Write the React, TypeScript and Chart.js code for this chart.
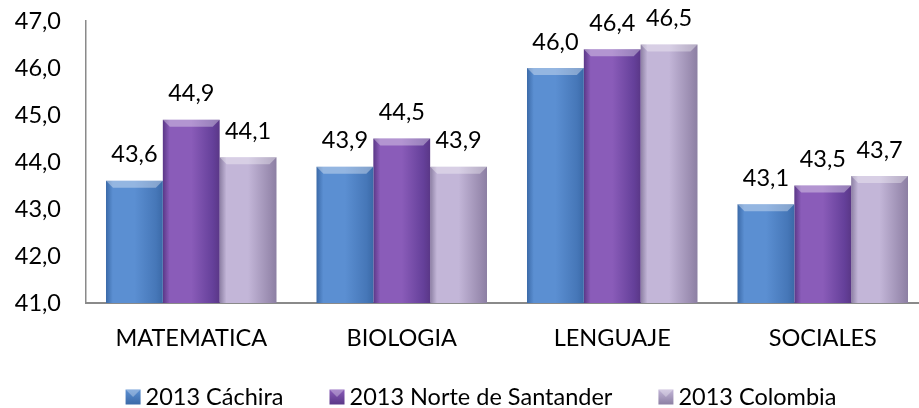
import React, { useEffect, useRef } from "react";
import { Chart, registerables } from "chart.js";

Chart.register(...registerables);

const categories = ["MATEMATICA", "BIOLOGIA", "LENGUAJE", "SOCIALES"];
const seriesNames = ["2013 Cáchira", "2013 Norte de Santander", "2013 Colombia"];
const cachira = [43.6, 43.9, 46.0, 43.1];
const norte = [44.9, 44.5, 46.4, 43.5];
const colombia = [44.1, 43.9, 46.5, 43.7];
const yTicks = [41, 42, 43, 44, 45, 46, 47];

const FONT = "Lato, 'Open Sans', sans-serif";
const FONT_SIZE = 23.5;
const CAT_PCT = 0.81;

// [edge dark, center light, right edge, legend solid]
const palettes = [
  ["#3b6aa8", "#5b8fd2", "#4677b8", "#4f81bd"],
  ["#5a3787", "#8a5cb9", "#65409a", "#7a4fac"],
  ["#8c7fa3", "#c3b6d8", "#9a8cb0", "#b0a2c8"],
];

const fmt = (v: number) => v.toFixed(1).replace(".", ",");

function barGradient(ctx: any) {
  const pal = palettes[ctx.datasetIndex] || palettes[0];
  const chart = ctx.chart;
  const xs = chart.scales && chart.scales.x;
  if (ctx.dataIndex === undefined || !xs || !chart.chartArea) return pal[3];
  const n = categories.length;
  const catW = xs.width / n;
  const barW = (catW * CAT_PCT) / 3;
  const cx = xs.getPixelForValue(ctx.dataIndex) + (ctx.datasetIndex - 1) * barW;
  const g = chart.ctx.createLinearGradient(cx - barW / 2, 0, cx + barW / 2, 0);
  g.addColorStop(0, pal[0]);
  g.addColorStop(0.12, pal[1]);
  g.addColorStop(0.5, pal[1]);
  g.addColorStop(0.88, pal[2]);
  g.addColorStop(1, pal[0]);
  return g;
}

const bevelAndLabels = {
  id: "bevelAndLabels",
  afterDatasetsDraw(chart: any) {
    const c = chart.ctx;
    c.save();
    chart.data.datasets.forEach((ds: any, di: number) => {
      const meta = chart.getDatasetMeta(di);
      meta.data.forEach((el: any, i: number) => {
        const { x, y, base, width } = el.getProps(["x", "y", "base", "width"], true);
        const l = x - width / 2;
        const r = x + width / 2;
        const b = 7;
        c.beginPath();
        c.moveTo(l, y);
        c.lineTo(r, y);
        c.lineTo(r - b, y + b);
        c.lineTo(l + b, y + b);
        c.closePath();
        c.fillStyle = "rgba(255,255,255,0.35)";
        c.fill();
        c.beginPath();
        c.moveTo(l, base);
        c.lineTo(r, base);
        c.lineTo(r - 3, base - 3);
        c.lineTo(l + 3, base - 3);
        c.closePath();
        c.fillStyle = "rgba(0,0,0,0.15)";
        c.fill();
        c.fillStyle = "#000";
        c.font = `${FONT_SIZE}px ${FONT}`;
        c.textAlign = "center";
        c.textBaseline = "middle";
        c.fillText(fmt(ds.data[i]), x, y - 26);
      });
    });
    c.restore();
  },
};

const LEGEND_CENTER_X = 481;
const LEGEND_BOTTOM_OFFSET = 11;
const LEGEND_BOX = 15;
const LEGEND_TEXT_GAP = 5;
const LEGEND_ITEM_GAP = 46;

const bottomLegend = {
  id: "bottomLegend",
  afterDraw(chart: any) {
    const c = chart.ctx;
    c.save();
    c.font = `${FONT_SIZE}px ${FONT}`;
    const widths = seriesNames.map((s) => c.measureText(s).width);
    const items = widths.map((w) => LEGEND_BOX + LEGEND_TEXT_GAP + w);
    const total = items.reduce((a, b) => a + b, 0) + LEGEND_ITEM_GAP * (items.length - 1);
    let x = LEGEND_CENTER_X - total / 2;
    const cy = chart.height - LEGEND_BOTTOM_OFFSET;
    seriesNames.forEach((name, i) => {
      const pal = palettes[i];
      const top = cy - LEGEND_BOX / 2;
      const g = c.createLinearGradient(0, top, 0, top + LEGEND_BOX);
      g.addColorStop(0, pal[1]);
      g.addColorStop(1, pal[0]);
      c.fillStyle = g;
      c.fillRect(x, top, LEGEND_BOX, LEGEND_BOX);
      c.fillStyle = "rgba(255,255,255,0.3)";
      c.beginPath();
      c.moveTo(x, top);
      c.lineTo(x + LEGEND_BOX, top);
      c.lineTo(x + LEGEND_BOX / 2, top + LEGEND_BOX / 2);
      c.closePath();
      c.fill();
      c.fillStyle = "#000";
      c.textAlign = "left";
      c.textBaseline = "middle";
      c.fillText(name, x + LEGEND_BOX + LEGEND_TEXT_GAP, cy);
      x += items[i] + LEGEND_ITEM_GAP;
    });
    c.restore();
  },
};

export default function App() {
  const ref = useRef<HTMLCanvasElement>(null);
  useEffect(() => {
    if (!ref.current) return;
    const chart = new Chart(ref.current, {
      type: "bar",
      data: {
        labels: categories,
        datasets: [cachira, norte, colombia].map((d, i) => ({
          label: seriesNames[i],
          data: d,
          backgroundColor: barGradient,
          borderWidth: 0,
          categoryPercentage: CAT_PCT,
          barPercentage: 1,
        })),
      },
      options: {
        responsive: false,
        animation: false,
        layout: { padding: { left: 0, right: 0, top: 21, bottom: 45 } },
        plugins: {
          tooltip: { enabled: false },
          legend: { display: false },
        },
        scales: {
          x: {
            grid: { display: false, drawTicks: false },
            border: { display: true, color: "#8a8a8a", width: 2 },
            ticks: { font: { family: FONT, size: FONT_SIZE }, color: "#000", padding: 21 },
            afterFit: (s: any) => {
              s.height = 60;
            },
          },
          y: {
            min: yTicks[0],
            max: yTicks[yTicks.length - 1],
            grid: { display: false, drawTicks: true, tickLength: 25 },
            border: { display: true, color: "#8a8a8a", width: 1.5 },
            afterBuildTicks: (s: any) => {
              s.ticks = yTicks.map((v) => ({ value: v }));
            },
            ticks: {
              font: { family: FONT, size: FONT_SIZE },
              color: "#000",
              padding: 0,
              callback: (v: any) => fmt(Number(v)),
            },
            afterFit: (s: any) => {
              s.width = 86;
            },
          },
        },
      },
      plugins: [bevelAndLabels, bottomLegend],
    });
    return () => chart.destroy();
  }, []);
  return (
    <div
      style={{
        position: "fixed",
        left: 0,
        top: 0,
        width: 919,
        height: 408,
        overflow: "hidden",
        background: "#fff",
      }}
    >
      <canvas ref={ref} width={928} height={408} style={{ display: "block", width: 928, height: 408 }} />
    </div>
  );
}
